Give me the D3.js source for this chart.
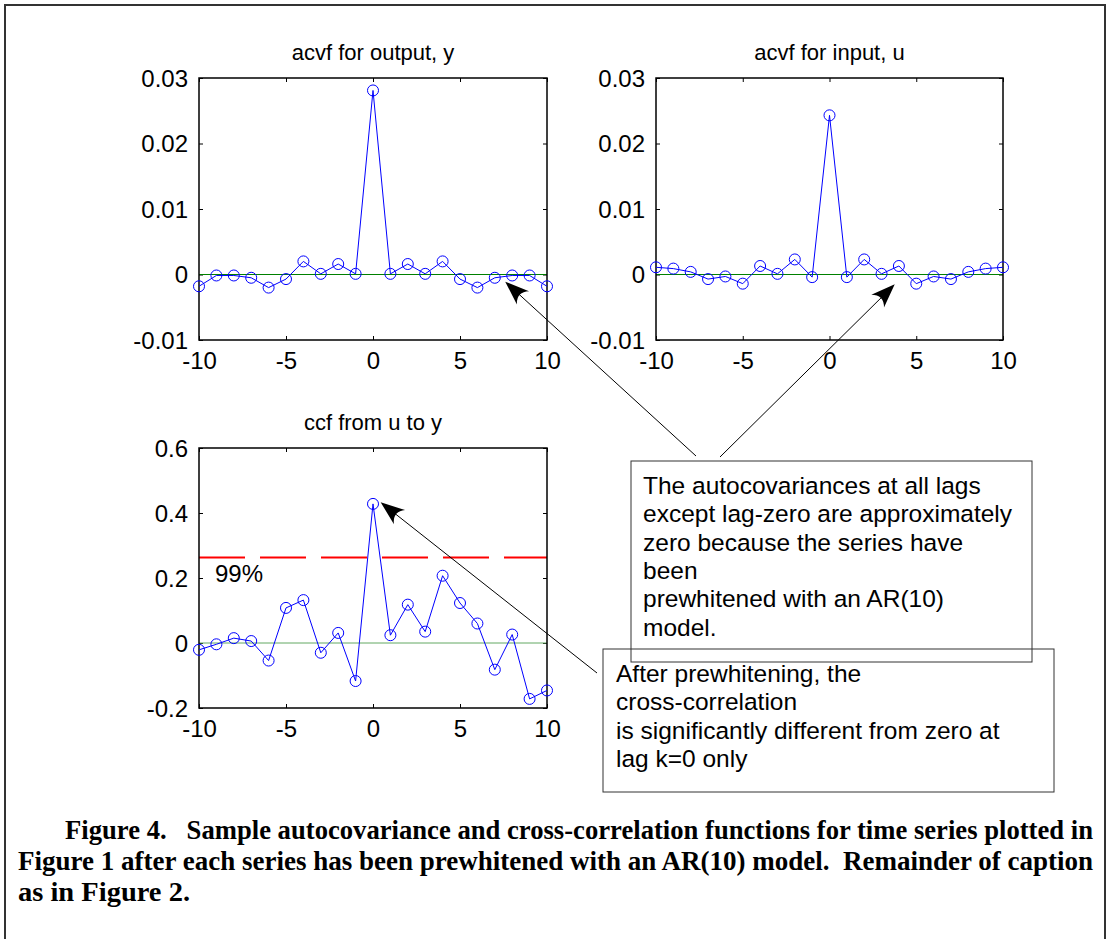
<!DOCTYPE html>
<html lang="en">

<head>
    <meta charset="utf-8">
    <title>Figure 4 - prewhitened acvf and ccf</title>
    <script type="text/javascript" src="https://d3js.org/d3.v7.min.js"></script>
    <style type="text/css">
        body {
            margin: 0;
            background: #fff;
        }

        .axis text {
            font-family: "Liberation Sans", Arial, sans-serif;
            font-size: 24px;
            fill: #000;
        }

        .axis line {
            stroke: #000;
        }

        .title,
        .note {
            font-family: "Liberation Sans", Arial, sans-serif;
            fill: #000;
        }

        .caption {
            font-family: "Liberation Serif", "Times New Roman", serif;
            font-weight: bold;
            font-size: 27px;
            fill: #000;
            white-space: pre;
        }
    </style>
</head>

<body>
    <script type="text/javascript">

        // data
        var lags = [-10, -9, -8, -7, -6, -5, -4, -3, -2, -1, 0, 1, 2, 3, 4, 5, 6, 7, 8, 9, 10];
        var acvfOutput = [-0.0018, -0.00015, -0.00015, -0.0005, -0.002, -0.0007, 0.002, 0.0001, 0.0016, 0.0001,
            0.0281, 0.0001, 0.0016, 0.0001, 0.002, -0.0007, -0.002, -0.0005, -0.00015, -0.00015, -0.0018];
        var acvfInput = [0.0011, 0.0009, 0.0004, -0.0007, -0.0003, -0.0014, 0.0013, 0.0001, 0.0023, -0.0004,
            0.0243, -0.0004, 0.0023, 0.0001, 0.0013, -0.0014, -0.0003, -0.0007, 0.0004, 0.0009, 0.0011];
        var ccfUY = [-0.021, -0.004, 0.015, 0.006, -0.054, 0.108, 0.132, -0.030, 0.031, -0.117,
            0.428, 0.024, 0.118, 0.035, 0.207, 0.123, 0.060, -0.082, 0.026, -0.172, -0.146];
        var ccfLimit = 0.263;

        var lagTicks = [-10, -5, 0, 5, 10];
        var acvfTicks = [-0.01, 0, 0.01, 0.02, 0.03];
        var ccfTicks = [-0.2, 0, 0.2, 0.4, 0.6];

        var titles = ["acvf for output, y", "acvf for input, u", "ccf from u to y"];

        var note1 = ["The autocovariances at all lags", "except lag-zero are approximately",
            "zero because the series have", "been", "prewhitened with an AR(10)", "model."];
        var note2 = ["After prewhitening, the", "cross-correlation",
            "is significantly different from zero at", "lag k=0 only"];
        var caption = [
            "Figure 4.   Sample autocovariance and cross-correlation functions for time series plotted in",
            "Figure 1 after each series has been prewhitened with an AR(10) model.  Remainder of caption",
            "as in Figure 2."
        ];

        // layout
        var W = 1107, H = 939;
        var panels = [
            { left: 199, top: 78, w: 348, h: 262, values: acvfOutput, domain: [-0.01, 0.03], ticks: acvfTicks, zero: "#008000" },
            { left: 656, top: 78, w: 347, h: 262, values: acvfInput, domain: [-0.01, 0.03], ticks: acvfTicks, zero: "#008000" },
            { left: 199, top: 448, w: 348, h: 260, values: ccfUY, domain: [-0.2, 0.6], ticks: ccfTicks, zero: "#62a862" }
        ];

        var svg = d3.select("body")
            .append("svg")
            .attr("width", W)
            .attr("height", H);

        svg.append("rect")
            .attr("width", W).attr("height", H)
            .attr("fill", "#fff");

        // outer frame
        svg.append("rect")
            .attr("x", 5).attr("y", 5)
            .attr("width", 1100).attr("height", 960)
            .attr("fill", "none")
            .attr("stroke", "#333")
            .attr("stroke-width", 2);

        panels.forEach(function (p, i) {
            var g = svg.append("g")
                .attr("transform", "translate(" + p.left + "," + p.top + ")");

            p.x = d3.scaleLinear().domain([-10, 10]).range([0, p.w]);
            p.y = d3.scaleLinear().domain(p.domain).range([p.h, 0]);

            // axes, ticks pointing inward on all sides
            var xAxis = g.append("g")
                .attr("class", "axis")
                .attr("transform", "translate(0," + p.h + ")")
                .call(d3.axisBottom(p.x).tickValues(lagTicks).tickSizeInner(-4).tickSizeOuter(0)
                    .tickFormat(function (d) { return String(d); }));
            xAxis.selectAll("text").attr("y", 29).attr("dy", null);

            g.append("g")
                .attr("class", "axis")
                .call(d3.axisTop(p.x).tickValues(lagTicks).tickSizeInner(-4).tickSizeOuter(0).tickFormat(""));

            var yAxis = g.append("g")
                .attr("class", "axis")
                .call(d3.axisLeft(p.y).tickValues(p.ticks).tickSizeInner(-4).tickSizeOuter(0)
                    .tickPadding(11).tickFormat(function (d) { return String(d); }));
            yAxis.selectAll("text").attr("dy", "0.35em");

            g.append("g")
                .attr("class", "axis")
                .attr("transform", "translate(" + p.w + ",0)")
                .call(d3.axisRight(p.y).tickValues(p.ticks).tickSizeInner(-4).tickSizeOuter(0).tickFormat(""));
            g.selectAll(".axis .domain").remove();

            // zero line
            g.append("line")
                .attr("x1", 0).attr("x2", p.w)
                .attr("y1", p.y(0)).attr("y2", p.y(0))
                .style("stroke", p.zero)
                .style("stroke-width", 1);

            // 99% limit on the ccf panel
            if (i === 2) {
                g.append("line")
                    .attr("x1", 0).attr("x2", p.w)
                    .attr("y1", p.y(ccfLimit)).attr("y2", p.y(ccfLimit))
                    .style("stroke", "#ff0000")
                    .style("stroke-width", 2)
                    .style("stroke-dasharray", "46 15");
                g.append("text")
                    .attr("class", "title")
                    .attr("x", 16)
                    .attr("y", p.y(ccfLimit) + 24)
                    .style("font-size", "24px")
                    .text("99%");
            }

            // box
            g.append("rect")
                .attr("width", p.w).attr("height", p.h)
                .attr("fill", "none")
                .attr("stroke", "#000")
                .attr("stroke-width", 1.5);

            // series
            var line = d3.line()
                .x(function (d, j) { return p.x(lags[j]); })
                .y(function (d) { return p.y(d); });
            g.append("path")
                .datum(p.values)
                .attr("d", line)
                .attr("fill", "none")
                .attr("stroke", "#0000ff")
                .attr("stroke-width", 1);
            g.selectAll("circle")
                .data(p.values)
                .enter()
                .append("circle")
                .attr("cx", function (d, j) { return p.x(lags[j]); })
                .attr("cy", function (d) { return p.y(d); })
                .attr("r", 5.5)
                .attr("fill", "none")
                .attr("stroke", "#0000ff")
                .attr("stroke-width", 1);

            // title
            g.append("text")
                .attr("class", "title")
                .attr("x", p.w / 2)
                .attr("y", -18)
                .attr("text-anchor", "middle")
                .style("font-size", "22px")
                .text(titles[i]);
        });

        // annotation boxes
        function noteBox(x, y, w, h, lines, tx, ty) {
            svg.append("rect")
                .attr("x", x).attr("y", y)
                .attr("width", w).attr("height", h)
                .attr("fill", "none")
                .attr("stroke", "#333")
                .attr("stroke-width", 1);
            var t = svg.append("text")
                .attr("class", "note")
                .style("font-size", "24.5px");
            t.selectAll("tspan")
                .data(lines)
                .enter()
                .append("tspan")
                .attr("x", tx)
                .attr("y", function (d, j) { return ty + j * 28.3; })
                .text(function (d) { return d; });
        }
        noteBox(631, 461, 401, 201, note1, 643, 494);
        noteBox(603, 649, 451, 143, note2, 616, 682);

        // arrows: tail on the note, tip on the data (in data units)
        var arrows = [
            { panel: 0, lag: 7.6, value: -0.0011, from: [696, 456] },
            { panel: 1, lag: 3.76, value: -0.0015, from: [720, 457] },
            { panel: 2, lag: 0.44, value: 0.433, from: [597, 673] }
        ];
        arrows.forEach(function (a) {
            var p = panels[a.panel];
            var tx = p.left + p.x(a.lag), ty = p.top + p.y(a.value);
            var ang = Math.atan2(ty - a.from[1], tx - a.from[0]);
            var L = 24, Wd = 9, N = 15;
            svg.append("line")
                .attr("x1", a.from[0]).attr("y1", a.from[1])
                .attr("x2", tx - Math.cos(ang) * N).attr("y2", ty - Math.sin(ang) * N)
                .attr("stroke", "#000")
                .attr("stroke-width", 1);
            svg.append("path")
                .attr("transform", "translate(" + tx + "," + ty + ") rotate(" + (ang * 180 / Math.PI) + ")")
                .attr("d", "M0,0 L" + (-L) + "," + (-Wd) + " Q" + (-N) + ",0 " + (-L) + "," + Wd + " Z")
                .attr("fill", "#000");
        });

        // caption
        var capLines = [
            { x: 65, y: 839, len: 1028 },
            { x: 18, y: 870, len: 1075 },
            { x: 18, y: 901, len: 172 }
        ];
        capLines.forEach(function (c, i) {
            svg.append("text")
                .attr("class", "caption")
                .attr("x", c.x)
                .attr("y", c.y)
                .attr("textLength", c.len)
                .attr("lengthAdjust", "spacingAndGlyphs")
                .text(caption[i]);
        });
    </script>
</body>
</html>
